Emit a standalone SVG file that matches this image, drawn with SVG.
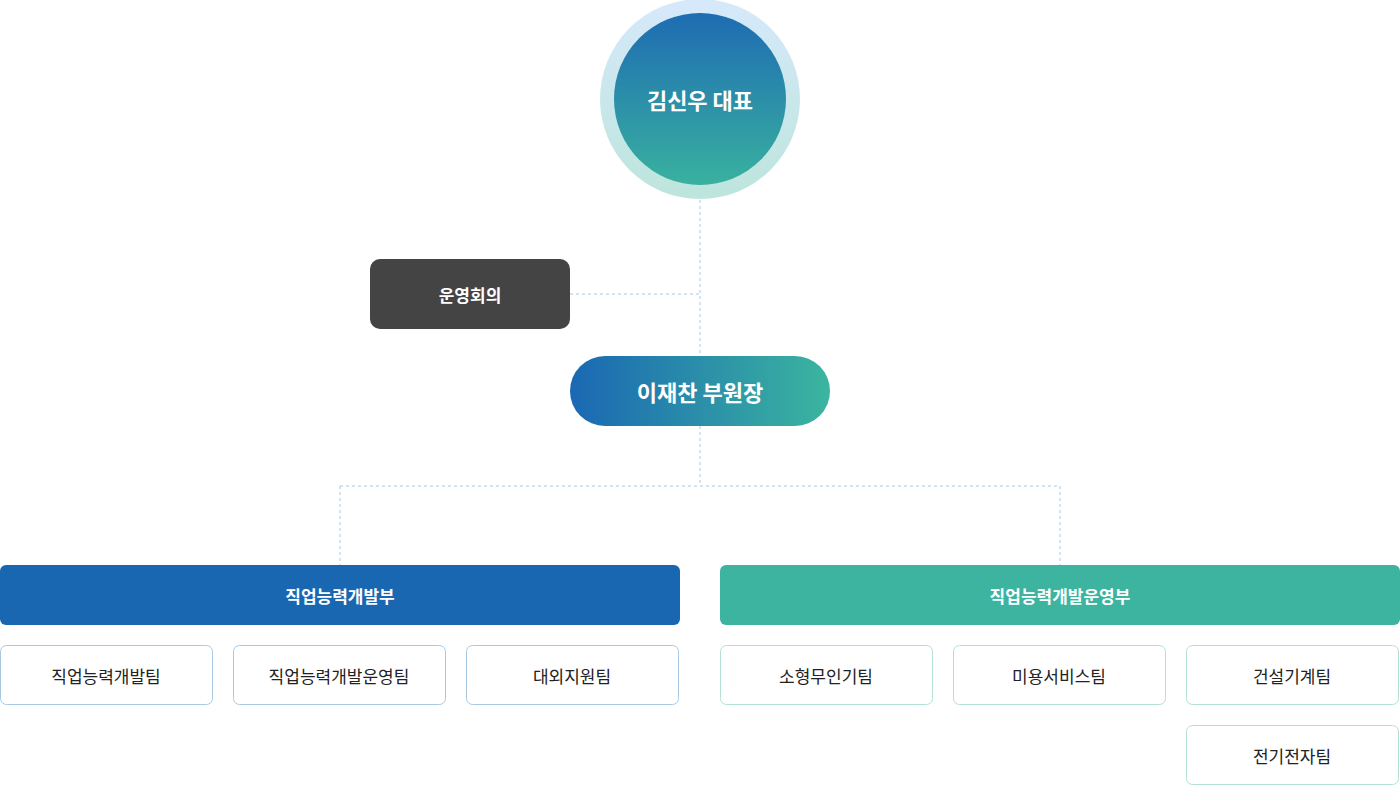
<svg xmlns="http://www.w3.org/2000/svg" width="1400" height="785" viewBox="0 0 1400 785">
<defs>
<linearGradient id="ring" x1="0" y1="0" x2="0" y2="1"><stop offset="0" stop-color="#d6e9fb"/><stop offset="1" stop-color="#bde5dc"/></linearGradient>
<linearGradient id="core" x1="0" y1="0" x2="0" y2="1"><stop offset="0" stop-color="#1e6cb2"/><stop offset="1" stop-color="#39b19f"/></linearGradient>
<linearGradient id="vp" x1="0" y1="0" x2="1" y2="0"><stop offset="0" stop-color="#1a68b3"/><stop offset="1" stop-color="#3bb59f"/></linearGradient>
<style>
text{font-family:"Noto Sans CJK KR","Noto Sans",sans-serif;text-anchor:middle;dominant-baseline:central}
.w{fill:#fff;font-weight:bold}
.t{fill:#222;font-size:17px}
.bb{fill:#fff;stroke:#a9c8e4;stroke-width:1}
.bg{fill:#fff;stroke:#b3e0d6;stroke-width:1}
.c{fill:none;stroke:#a9c8e4;stroke-width:1;stroke-dasharray:3 3}
</style>
</defs>
<g id="connectors">
<path class="c" d="M700 200V356M570 294H700M700 426V486M340 486H1060M340 486V565M1060 486V565"/>
</g>
<g id="ceo"><circle cx="700" cy="99" r="100" fill="url(#ring)"/><circle cx="700" cy="99" r="86" fill="url(#core)"/><text x="700" y="99" class="w" font-size="22">김신우 대표</text></g>
<g id="meeting"><rect x="370" y="259" width="200" height="70" rx="10" fill="#444"/><text x="470" y="294" class="w" font-size="17" font-weight="normal">운영회의</text></g>
<g id="vp"><rect x="570" y="356" width="260" height="70" rx="35" fill="url(#vp)"/><text x="700" y="391" class="w" font-size="22">이재찬 부원장</text></g>
<g id="dept1"><rect x="0" y="565" width="680" height="60" rx="6" fill="#1a67b1"/><text x="340" y="595" class="w" font-size="17">직업능력개발부</text></g>
<g id="dept2"><rect x="720" y="565" width="680" height="60" rx="6" fill="#3db49f"/><text x="1060" y="595" class="w" font-size="17">직업능력개발운영부</text></g>
<g id="t1"><rect class="bb" x="0.5" y="645.5" width="212" height="59" rx="6"/><text class="t" x="106" y="675">직업능력개발팀</text></g>
<g id="t2"><rect class="bb" x="233.5" y="645.5" width="212" height="59" rx="6"/><text class="t" x="339" y="675">직업능력개발운영팀</text></g>
<g id="t3"><rect class="bb" x="466.5" y="645.5" width="212" height="59" rx="6"/><text class="t" x="572" y="675">대외지원팀</text></g>
<g id="t4"><rect class="bg" x="720.5" y="645.5" width="212" height="59" rx="6"/><text class="t" x="826" y="675">소형무인기팀</text></g>
<g id="t5"><rect class="bg" x="953.5" y="645.5" width="212" height="59" rx="6"/><text class="t" x="1059" y="675">미용서비스팀</text></g>
<g id="t6"><rect class="bg" x="1186.5" y="645.5" width="212" height="59" rx="6"/><text class="t" x="1292" y="675">건설기계팀</text></g>
<g id="t7"><rect class="bg" x="1186.5" y="725.5" width="212" height="59" rx="6"/><text class="t" x="1292" y="755">전기전자팀</text></g>
</svg>
